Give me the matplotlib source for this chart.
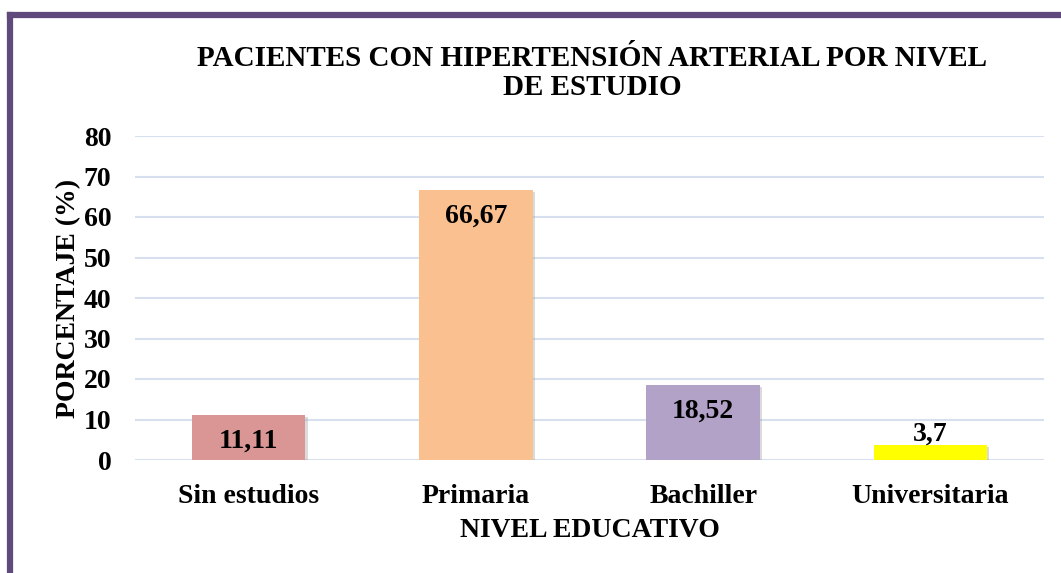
import matplotlib.pyplot as plt
from matplotlib.lines import Line2D
import matplotlib.patheffects as pe

# datos
categorias = ['Sin estudios', 'Primaria', 'Bachiller', 'Universitaria']
porcentajes = [11.11, 66.67, 18.52, 3.7]
etiquetas = ['11,11', '66,67', '18,52', '3,7']
colores = ['#D99694', '#FAC090', '#B3A2C7', '#FFFF00']
yticks = [0, 10, 20, 30, 40, 50, 60, 70, 80]

plt.rcParams['font.family'] = ['Liberation Serif', 'DejaVu Serif']
plt.rcParams['font.weight'] = 'bold'

fig = plt.figure(figsize=(10.61, 5.73), dpi=100)
ax = fig.add_axes([135 / 1061, 1 - 460 / 573, (1044 - 135) / 1061, (460 - 136) / 573])

x = range(len(categorias))
barras = ax.bar(x, porcentajes, width=0.5, color=colores, zorder=3)
for b in barras:
    b.set_path_effects([pe.SimplePatchShadow(offset=(1.5, -1.5), shadow_rgbFace='#999999', alpha=0.35),
                        pe.Normal()])

# etiquetas de datos
for i, (v, t) in enumerate(zip(porcentajes, etiquetas)):
    if v > 8:
        ax.annotate(t, (i, v), xytext=(0, -10), textcoords='offset points',
                    ha='center', va='top', fontsize=20, fontweight='bold', zorder=4)
    else:
        ax.annotate(t, (i, v), xytext=(0, -1), textcoords='offset points',
                    ha='center', va='bottom', fontsize=20, fontweight='bold', zorder=4)

ax.set_ylim(0, 80)
ax.set_xlim(-0.5, 3.5)
ax.set_yticks(yticks)
ax.set_xticks(list(x))
ax.set_xticklabels(categorias)
ax.tick_params(axis='both', length=0, labelsize=20)
ax.tick_params(axis='y', pad=17)
ax.tick_params(axis='x', pad=17)
for lab in ax.get_xticklabels() + ax.get_yticklabels():
    lab.set_fontweight('bold')

ax.grid(axis='y', color='#D6E0EF', linewidth=1.5, zorder=0)
for s in ax.spines.values():
    s.set_visible(False)

ax.set_xlabel('NIVEL EDUCATIVO', fontsize=20, fontweight='bold', labelpad=7)
ax.set_ylabel('PORCENTAJE (%)', fontsize=20, fontweight='bold', labelpad=2)

fig.text(592 / 1061, 1 - 73 / 573, 'PACIENTES CON HIPERTENSIÓN ARTERIAL POR NIVEL\nDE ESTUDIO',
         ha='center', va='center', fontsize=21, fontweight='bold', linespacing=1.12)

# marco morado
fig.add_artist(Line2D([10 / 1061, 10 / 1061], [0, 1 - 15 / 573], transform=fig.transFigure,
                      color='#604A7B', linewidth=4.5, solid_capstyle='projecting'))
fig.add_artist(Line2D([10 / 1061, 1], [1 - 15 / 573, 1 - 15 / 573], transform=fig.transFigure,
                      color='#604A7B', linewidth=4.5, solid_capstyle='projecting'))

fig.savefig('out.png', dpi=100)
